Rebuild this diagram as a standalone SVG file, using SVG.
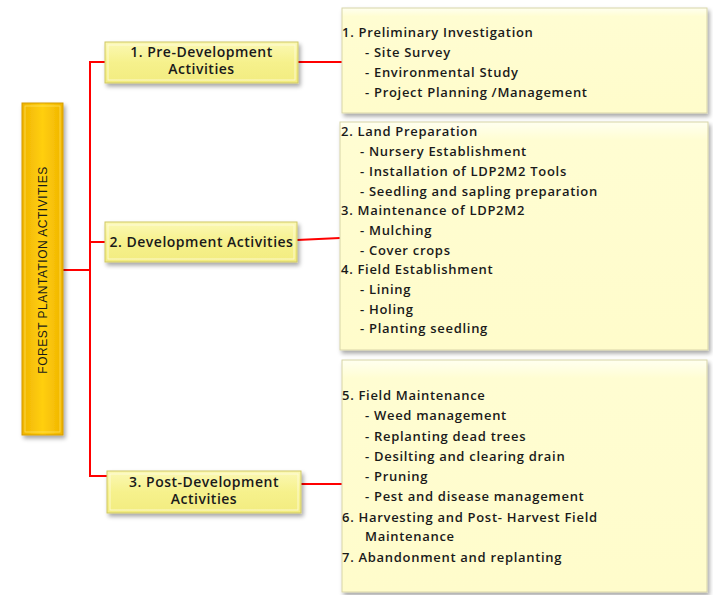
<svg xmlns="http://www.w3.org/2000/svg" width="713" height="595" viewBox="0 0 713 595">
<defs>
  <filter id="sh" x="-10%" y="-10%" width="130%" height="130%">
    <feDropShadow dx="2" dy="3" stdDeviation="2" flood-color="#000" flood-opacity="0.35"/>
  </filter>
  <linearGradient id="gold" x1="0" y1="0" x2="1" y2="0">
    <stop offset="0" stop-color="#F0B400"/>
    <stop offset="0.5" stop-color="#FFCF10"/>
    <stop offset="1" stop-color="#F0B400"/>
  </linearGradient>
  <linearGradient id="mid" x1="0" y1="0" x2="0" y2="1">
    <stop offset="0" stop-color="#FBF8B4"/>
    <stop offset="0.5" stop-color="#F6F18C"/>
    <stop offset="1" stop-color="#F2EC80"/>
  </linearGradient>
  <linearGradient id="pale" x1="0" y1="0" x2="0" y2="1">
    <stop offset="0" stop-color="#FFFFF0"/>
    <stop offset="0.08" stop-color="#FFFDD2"/>
    <stop offset="1" stop-color="#FFFCCB"/>
  </linearGradient>
</defs>
<style>
  .conn { stroke: #FF0000; stroke-width: 2; fill: none; }
  .lbl { font-family: "Open Sans", "Noto Sans", sans-serif; font-weight: 600; font-size: 13px; letter-spacing: 0.7px; fill: #1A1A1A; }
  .mid-t { text-anchor: middle; font-size: 14px; letter-spacing: 0.5px; }
  .root-t { font-family: "Liberation Sans", Arial, sans-serif; font-size: 12px; letter-spacing: 0.5px; fill: #1A1A1A; text-anchor: middle; }
  .rootbox { fill: url(#gold); stroke: #D49C00; stroke-width: 1; }
  .midbox { fill: url(#mid); stroke: #CFC864; stroke-width: 1; }
  .midin { fill: none; stroke: #FFFDE0; stroke-width: 1; opacity: 0.8; }
  .palebox { fill: url(#pale); stroke: #D8D5A8; stroke-width: 1; }
</style>

<g id="connectors">
  <path class="conn" d="M63 270 H90"/>
  <path class="conn" d="M105 62 H90 V476 H107"/>
  <path class="conn" d="M90 242 H105"/>
  <path class="conn" d="M298 62 H342"/>
  <path class="conn" d="M297 240 L340 238"/>
  <path class="conn" d="M301 484 H342"/>
</g>

<g id="root">
  <rect class="rootbox" x="22" y="103" width="41" height="332" filter="url(#sh)"/>
  <rect x="25" y="106" width="35" height="326" fill="none" stroke="#FFE566" stroke-width="1" opacity="0.7"/>
  <text class="root-t" transform="translate(46.5 270) rotate(-90)">FOREST PLANTATION ACTIVITIES</text>
</g>

<g id="pre-dev">
  <rect class="midbox" x="105" y="42" width="193" height="41" filter="url(#sh)"/>
  <rect class="midin" x="108" y="45" width="187" height="35"/>
  <text class="lbl mid-t" x="201.5" y="57">1. Pre-Development</text>
  <text class="lbl mid-t" x="201.5" y="74">Activities</text>
</g>

<g id="dev">
  <rect class="midbox" x="105" y="222" width="192" height="40" filter="url(#sh)"/>
  <rect class="midin" x="108" y="225" width="186" height="34"/>
  <text class="lbl mid-t" x="201.5" y="247">2. Development Activities</text>
</g>

<g id="post-dev">
  <rect class="midbox" x="107" y="471" width="194" height="42" filter="url(#sh)"/>
  <rect class="midin" x="110" y="474" width="188" height="36"/>
  <text class="lbl mid-t" x="204" y="487">3. Post-Development</text>
  <text class="lbl mid-t" x="204" y="504">Activities</text>
</g>

<g id="pre-details">
  <rect class="palebox" x="342" y="8" width="365" height="105" filter="url(#sh)"/>
  <text class="lbl" x="342" y="37">1. Preliminary Investigation</text>
  <text class="lbl" x="365" y="57">- Site Survey</text>
  <text class="lbl" x="365" y="77">- Environmental Study</text>
  <text class="lbl" x="365" y="97">- Project Planning /Management</text>
</g>

<g id="dev-details">
  <rect class="palebox" x="340" y="122" width="368" height="228" filter="url(#sh)"/>
  <text class="lbl" x="341" y="136">2. Land Preparation</text>
  <text class="lbl" x="360" y="156">- Nursery Establishment</text>
  <text class="lbl" x="360" y="176">- Installation of LDP2M2 Tools</text>
  <text class="lbl" x="360" y="195.5">- Seedling and sapling preparation</text>
  <text class="lbl" x="341" y="215">3. Maintenance of LDP2M2</text>
  <text class="lbl" x="360" y="235">- Mulching</text>
  <text class="lbl" x="360" y="254.5">- Cover crops</text>
  <text class="lbl" x="341" y="274">4. Field Establishment</text>
  <text class="lbl" x="360" y="294">- Lining</text>
  <text class="lbl" x="360" y="313.5">- Holing</text>
  <text class="lbl" x="360" y="333">- Planting seedling</text>
</g>

<g id="post-details">
  <rect class="palebox" x="342" y="360" width="365" height="232" filter="url(#sh)"/>
  <text class="lbl" x="342" y="400">5. Field Maintenance</text>
  <text class="lbl" x="365" y="420">- Weed management</text>
  <text class="lbl" x="365" y="441">- Replanting dead trees</text>
  <text class="lbl" x="365" y="461">- Desilting and clearing drain</text>
  <text class="lbl" x="365" y="481">- Pruning</text>
  <text class="lbl" x="365" y="501">- Pest and disease management</text>
  <text class="lbl" x="342" y="522">6. Harvesting and Post- Harvest Field</text>
  <text class="lbl" x="365" y="541">Maintenance</text>
  <text class="lbl" x="342" y="562">7. Abandonment and replanting</text>
</g>
</svg>
